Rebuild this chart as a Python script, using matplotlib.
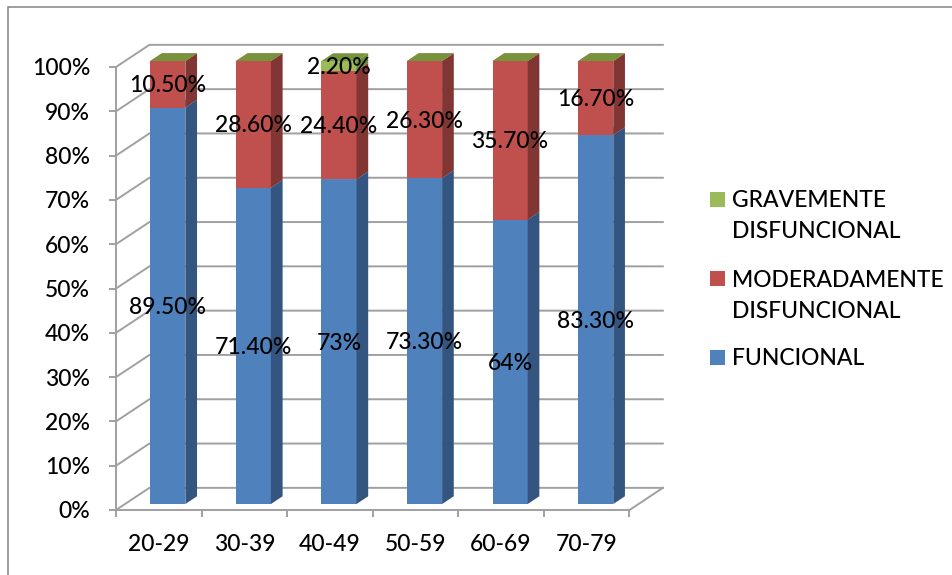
import matplotlib.pyplot as plt
import numpy as np
from matplotlib.patches import Polygon, Rectangle

plt.rcParams["font.family"] = ["Lato", "DejaVu Sans"]
plt.rcParams["font.weight"] = "medium"

groups = ["20-29", "30-39", "40-49", "50-59", "60-69", "70-79"]
funcional = [89.5, 71.4, 73.0, 73.3, 64.0, 83.3]
moderado = [10.5, 28.6, 24.4, 26.3, 35.7, 16.7]
grave = [0.0, 0.0, 2.2, 0.0, 0.0, 0.0]
series_names = ["FUNCIONAL", "MODERADAMENTE\nDISFUNCIONAL", "GRAVEMENTE\nDISFUNCIONAL"]

# face shades per series: front, right side, top
FRONT = ["#4F81BD", "#C0504D", "#9BBB59"]
SIDE = ["#34557F", "#823634", "#6A8A3A"]
TOP = ["#6D95C8", "#CF6E6B", "#77933C"]
GRID = "#A0A0A0"

# fake 3D: depth of the floor in data units, bar placement inside that depth
DX, DY = 0.39, 5.0
F0 = 0.27      # where the bar front sits (fraction of depth)
BD = 0.35      # bar depth (fraction of depth)
W = 0.41       # bar width
FS = 16.5

W_PX, H_PX = 953, 575


def fig_xy(x, y):
    return x / W_PX, 1 - y / H_PX


def fmt(v):
    return f"{v:g}%" if float(v).is_integer() else f"{v:.2f}%"


values = np.array([funcional, moderado, grave])
pct = values / values.sum(axis=0) * 100
n = len(groups)

fig = plt.figure(figsize=(W_PX / 100, H_PX / 100), dpi=100)
ax = fig.add_axes([116 / W_PX, 65 / H_PX, 513.5 / W_PX, 443 / H_PX])
ax.set_xlim(0, n)
ax.set_ylim(0, 100)
ax.patch.set_visible(False)

# back wall + left wall gridlines
for v in range(0, 101, 10):
    ax.plot([0, DX, n + DX], [v, v + DY, v + DY], color=GRID, lw=1.4,
            clip_on=False, zorder=1, solid_joinstyle="miter")
ax.plot([n, n + DX], [0, DY], color=GRID, lw=1.4, clip_on=False, zorder=1)

for side in ["top", "right"]:
    ax.spines[side].set_visible(False)
for side in ["left", "bottom"]:
    ax.spines[side].set_color(GRID)
    ax.spines[side].set_linewidth(1.4)

ax.set_yticks(np.arange(0, 101, 10))
ax.set_yticklabels([f"{v}%" for v in range(0, 101, 10)])
ax.tick_params(axis="y", length=5, width=1.4, color=GRID, pad=13.5, labelsize=FS)

ax.set_xticks(np.arange(n + 1))
ax.set_xticklabels([])
ax.set_xticks(np.arange(n) + 0.5, minor=True)
ax.set_xticklabels(groups, minor=True)
ax.tick_params(axis="x", which="major", length=5, width=1.4, color=GRID)
ax.tick_params(axis="x", which="minor", length=0, pad=17, labelsize=FS)

bdx, bdy = BD * DX, BD * DY
for i in range(n):
    x0 = i + 0.5 - W / 2 + F0 * DX
    x1 = x0 + W
    base = 0.0
    for s in range(3):
        h = pct[s, i]
        yb = base + F0 * DY
        yt = yb + h
        z = 3 + s
        ax.bar(x0, h, width=W, bottom=yb, align="edge", color=FRONT[s],
               zorder=z, clip_on=False)
        ax.add_patch(Polygon([(x1, yb), (x1 + bdx, yb + bdy), (x1 + bdx, yt + bdy), (x1, yt)],
                             closed=True, fc=SIDE[s], ec="none", zorder=z, clip_on=False))
        ax.add_patch(Polygon([(x0, yt), (x1, yt), (x1 + bdx, yt + bdy), (x0 + bdx, yt + bdy)],
                             closed=True, fc=TOP[s], ec="none", zorder=z, clip_on=False))
        if values[s, i] > 0:
            ax.text(i + 0.5 + F0 * DX, base + h / 2 + 1.0, fmt(values[s, i]),
                    ha="center", va="center", fontsize=FS, zorder=10)
        base += h

# legend, drawn top to bottom in reverse stacking order
first_baselines = [365, 287, 207]
for s in range(2, -1, -1):
    yb = first_baselines[s]
    fig.add_artist(Rectangle(fig_xy(710, yb - 0.5), 15 / W_PX, 15 / H_PX,
                             transform=fig.transFigure, fc=FRONT[s], ec="none"))
    for k, line in enumerate(series_names[s].split("\n")):
        fig.text(*fig_xy(732, yb + 31 * k), line, fontsize=FS, ha="left", va="baseline")

# chart frame
fig.add_artist(Rectangle(fig_xy(8.5, H_PX + 20), 2.0, (H_PX + 13.5) / H_PX,
                         transform=fig.transFigure, fill=False, ec="#8E8E8E", lw=1.2))

fig.savefig("out.png", dpi=100)
